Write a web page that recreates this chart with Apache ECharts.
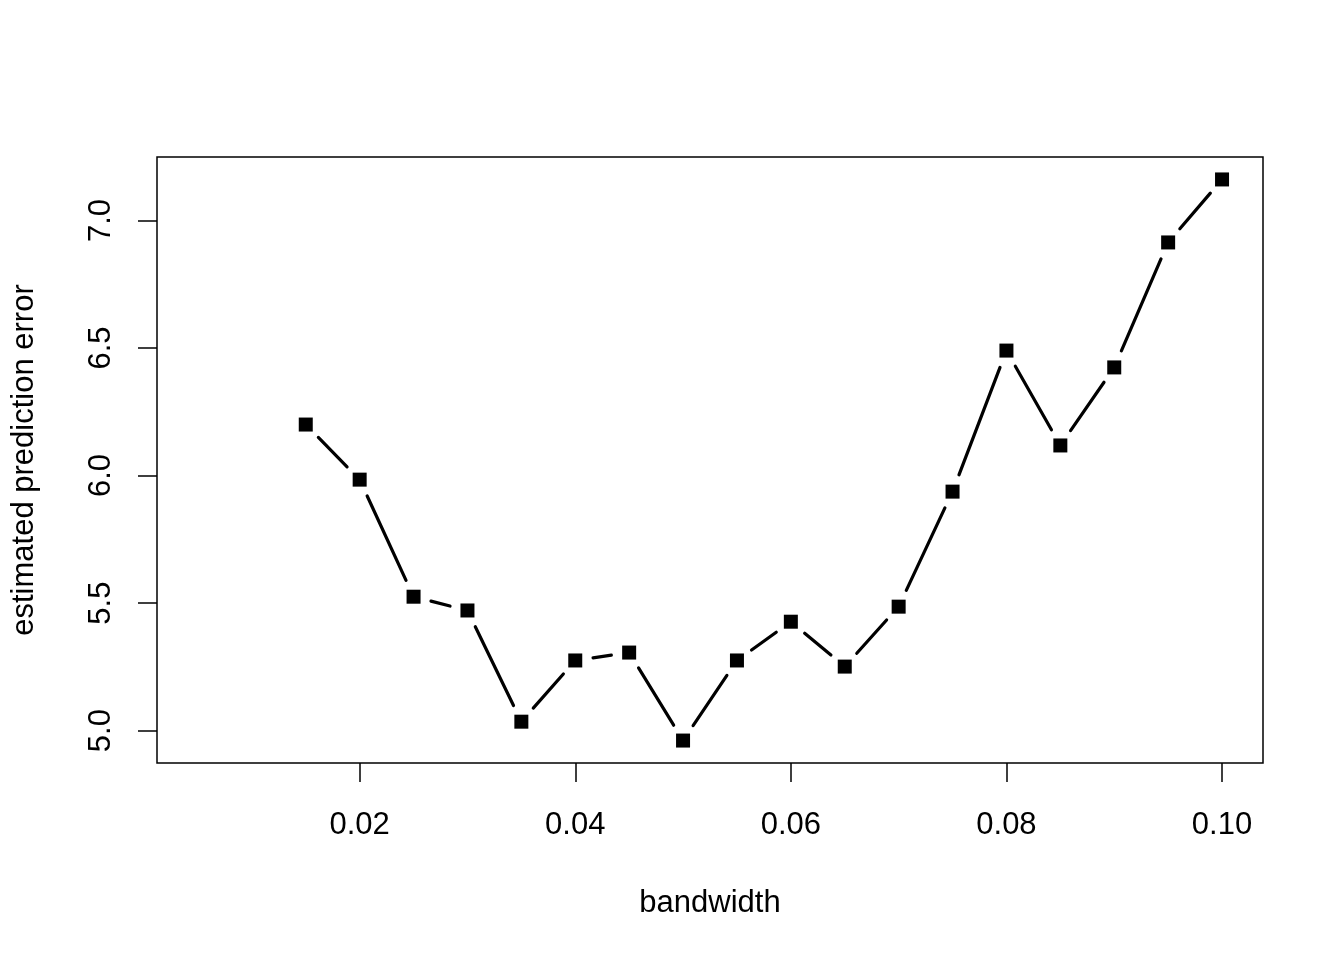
<!DOCTYPE html>
<html>
<head>
<meta charset="utf-8">
<script src="https://cdn.jsdelivr.net/npm/echarts@6/dist/echarts.min.js"></script>
<style>
html,body{margin:0;padding:0;background:#fff;}
#chart{width:1344px;height:960px;}
</style>
</head>
<body>
<div id="chart"></div>
<script>
// Data
const bandwidth = [0.015,0.020,0.025,0.030,0.035,0.040,0.045,0.050,0.055,0.060,0.065,0.070,0.075,0.080,0.085,0.090,0.095,0.100];
const predError = [6.200,5.984,5.525,5.471,5.035,5.275,5.306,4.961,5.275,5.427,5.251,5.486,5.937,6.490,6.118,6.424,6.914,7.161];
const xTicks = [0.02,0.04,0.06,0.08,0.10];
const yTicks = [5.0,5.5,6.0,6.5,7.0];
const xName = 'bandwidth';
const yName = 'estimated prediction error';

const FONT = 'Liberation Sans, Arial, Helvetica, sans-serif';
const FS = 31;
const GAP = 18;

const chart = echarts.init(document.getElementById('chart'), null, {renderer:'canvas'});

const pts = bandwidth.map((b,i)=>[b, predError[i]]);
const segIdx = pts.slice(0, -1).map((p,i)=>[p[0], p[1], i]);

chart.setOption({
  animation:false,
  backgroundColor:'#fff',
  grid:{left:157, right:81, top:157, bottom:197, show:true, borderColor:'#000', borderWidth:1.5, backgroundColor:'transparent'},
  xAxis:{
    type:'value', min:0.0012, max:0.1038,
    name:xName, nameLocation:'middle', nameGap:125,
    nameTextStyle:{fontFamily:FONT, fontSize:FS, color:'#000'},
    axisLine:{show:false},
    splitLine:{show:false},
    axisTick:{show:true, inside:false, length:19, customValues:xTicks, lineStyle:{color:'#000', width:1.5}},
    axisLabel:{show:true, customValues:xTicks, margin:47, fontFamily:FONT, fontSize:FS, color:'#000',
      formatter:v=>v.toFixed(2)}
  },
  yAxis:{
    type:'value', min:4.873, max:7.249,
    name:yName, nameLocation:'middle', nameGap:117,
    nameTextStyle:{fontFamily:FONT, fontSize:FS, color:'#000'},
    axisLine:{show:false},
    splitLine:{show:false},
    axisTick:{show:true, inside:false, length:19, customValues:yTicks, lineStyle:{color:'#000', width:1.5}},
    axisLabel:{show:true, customValues:yTicks, rotate:90, margin:40, fontFamily:FONT, fontSize:FS, color:'#000',
      formatter:v=>v.toFixed(1)}
  },
  series:[
    {
      type:'custom',
      data:segIdx,
      silent:true,
      renderItem:function(params, api){
        const i = api.value(2);
        const a = api.coord(pts[i]);
        const b = api.coord(pts[i+1]);
        const dx = b[0]-a[0], dy = b[1]-a[1];
        const d = Math.sqrt(dx*dx+dy*dy);
        if (d <= 2*GAP) return null;
        const ux = dx/d, uy = dy/d;
        return {
          type:'line',
          shape:{x1:a[0]+ux*GAP, y1:a[1]+uy*GAP, x2:b[0]-ux*GAP, y2:b[1]-uy*GAP},
          style:{stroke:'#000', lineWidth:3.2, lineCap:'round'}
        };
      }
    },
    {
      type:'scatter',
      data:pts,
      symbol:'rect',
      symbolSize:14,
      itemStyle:{color:'#000', opacity:1},
      emphasis:{disabled:true},
      silent:true
    }
  ]
});
</script>
</body>
</html>
